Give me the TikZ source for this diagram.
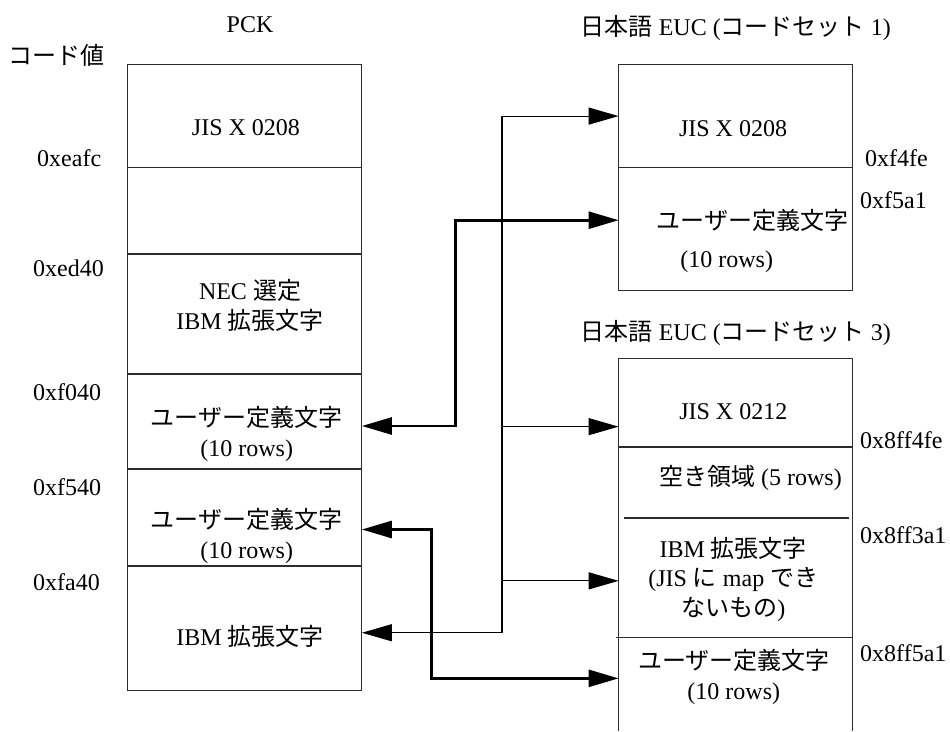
\documentclass[tikz,border=0pt]{standalone}
\usepackage{fontspec}
\setmainfont{Liberation Serif}
\newfontfamily\jp{Noto Sans CJK JP}
\usepackage{tikz}
\usetikzlibrary{arrows.meta, positioning, calc}
\definecolor{MapLine}{RGB}{45, 45, 45}

\tikzset{
  >={Triangle[length=30pt,width=17pt]},
  cell/.style={draw=MapLine, line width=1.2pt, rectangle, inner sep=0pt, outer sep=0pt, minimum width=234pt},
  slot/.style={rectangle, inner sep=0pt, outer sep=0pt, minimum width=234pt},
  lbl/.style={inner sep=0pt, align=center, font=\fontsize{24}{29.5}\selectfont},
  link/.style={line width=1.2pt, black},
  boldlink/.style={line width=2.6pt, black},
}

\begin{document}
\begin{tikzpicture}[x=1pt,y=-1pt]
  \path[use as bounding box] (0,0) rectangle (950,731);

  % PCK column
  \node[lbl] (pTitle) at (250,25) {PCK};
  \node[lbl] (pCode) at (57,55) {\jp コード値};
  \node[cell, minimum height=103pt] (pJis) at (244.85,116) {};
  \node[cell, minimum height=86.5pt, below=0pt of pJis] (pEmpty) {};
  \node[cell, minimum height=120pt, below=0pt of pEmpty] (pNec) {};
  \node[cell, minimum height=95pt, below=0pt of pNec] (pUdA) {};
  \node[cell, minimum height=97pt, below=0pt of pUdA] (pUdB) {};
  \node[cell, minimum height=124.5pt, below=0pt of pUdB] (pIbm) {};

  \node[lbl] (pJisText) at (246,128) {JIS X 0208};
  \node[lbl] (pNecText) at (250,305.5) {NEC {\jp 選定}\\IBM {\jp 拡張文字}};
  \node[lbl] (pUdAText) at (246.7,433.7) {{\jp ユーザー定義文字}\\(10 rows)};
  \node[lbl] (pUdBText) at (246.7,535.8) {{\jp ユーザー定義文字}\\(10 rows)};
  \node[lbl] (pIbmText) at (250,636) {IBM {\jp 拡張文字}};

  \foreach \val/\xa/\ya [count=\i] in {0xeafc/37/158, 0xed40/33/268, 0xf040/33/391.7, 0xf540/33/486.7, 0xfa40/33/582.3}
    \node[lbl, anchor=west] (pAddr\i) at (\xa,\ya) {\val};

  % EUC code set 1
  \node[lbl] (eTitle) at (735.8,28.3) {{\jp 日本語} EUC ({\jp コードセット} 1)};
  \node[cell, minimum height=103.2pt] (eJis) at (735.6,116.1) {};
  \node[cell, minimum height=123pt, below=0pt of eJis] (eUd) {};
  \node[lbl] (eJisText) at (733,128.3) {JIS X 0208};
  \node[lbl] (eUdText) at (752.7,220) {\jp ユーザー定義文字};
  \node[lbl] (eRowsText) at (726.7,261.7) {(10 rows)};

  % EUC code set 3 (open at the bottom)
  \node[lbl] (fTitle) at (735.8,333.3) {{\jp 日本語} EUC ({\jp コードセット} 3)};
  \node[cell, minimum height=88.7pt] (fJis) at (735.6,402.65) {};
  \node[slot, minimum height=71pt, below=0pt of fJis] (fFree) {};
  \node[slot, minimum height=119.7pt, below=0pt of fFree] (fIbm) {};
  \node[slot, minimum height=93.3pt, below=0pt of fIbm] (fUd) {};
  \draw[MapLine, line width=1.2pt] (fFree.north west) -- (fUd.south west)
    (fFree.north east) -- (fUd.south east)
    ([xshift=5.5pt]fIbm.north west) -- ([xshift=-4pt]fIbm.north east)
    ([xshift=-2.5pt]fUd.north west) -- (fUd.north east);
  \node[lbl] (fJisText) at (733.3,411.7) {JIS X 0212};
  \node[lbl] (fFreeText) at (750.5,478.3) {{\jp 空き領域} (5 rows)};
  \node[lbl] (fIbmText) at (733.3,579) {IBM {\jp 拡張文字}\\(JIS {\jp に} map {\jp でき}\\{\jp ないもの})};
  \node[lbl] (fUdText) at (733.8,676.7) {{\jp ユーザー定義文字}\\(10 rows)};

  \foreach \val/\xa/\ya [count=\i] in {0xf4fe/865/158.3, 0xf5a1/860/200, 0x8ff4fe/860/440, 0x8ff3a1/860/535, 0x8ff5a1/860/653.3}
    \node[lbl, anchor=west] (eAddr\i) at (\xa,\ya) {\val};

  % Mapping connectors
  \coordinate (spineThin) at (502,0);
  \coordinate (spineA) at (455.3,0);
  \coordinate (spineB) at (431.3,0);
  \coordinate (inPA) at ([yshift=-4.5pt]pUdA.east);
  \coordinate (inPB) at ([yshift=-12pt]pUdB.east);
  \coordinate (inPIbm) at ([yshift=-4.5pt]pIbm.east);
  \coordinate (inEUd) at ([yshift=9pt]eUd.west);
  \coordinate (inFJis) at ([yshift=-24pt]fJis.west);
  \coordinate (inFIbm) at ([yshift=-3pt]fIbm.west);
  \coordinate (inFUd) at ([yshift=6pt]fUd.west);

  \draw[link,<->] (inPIbm) -| (spineThin |- eJis.west) -- (eJis.west);
  \draw[link,->] (spineThin |- inFJis) -- (inFJis);
  \draw[link,->] (spineThin |- inFIbm) -- (inFIbm);
  \draw[boldlink,<->] (inPA) -| (spineA |- inEUd) -- (inEUd);
  \draw[boldlink,<->] (inPB) -| (spineB |- inFUd) -- (inFUd);
\end{tikzpicture}
\end{document}
